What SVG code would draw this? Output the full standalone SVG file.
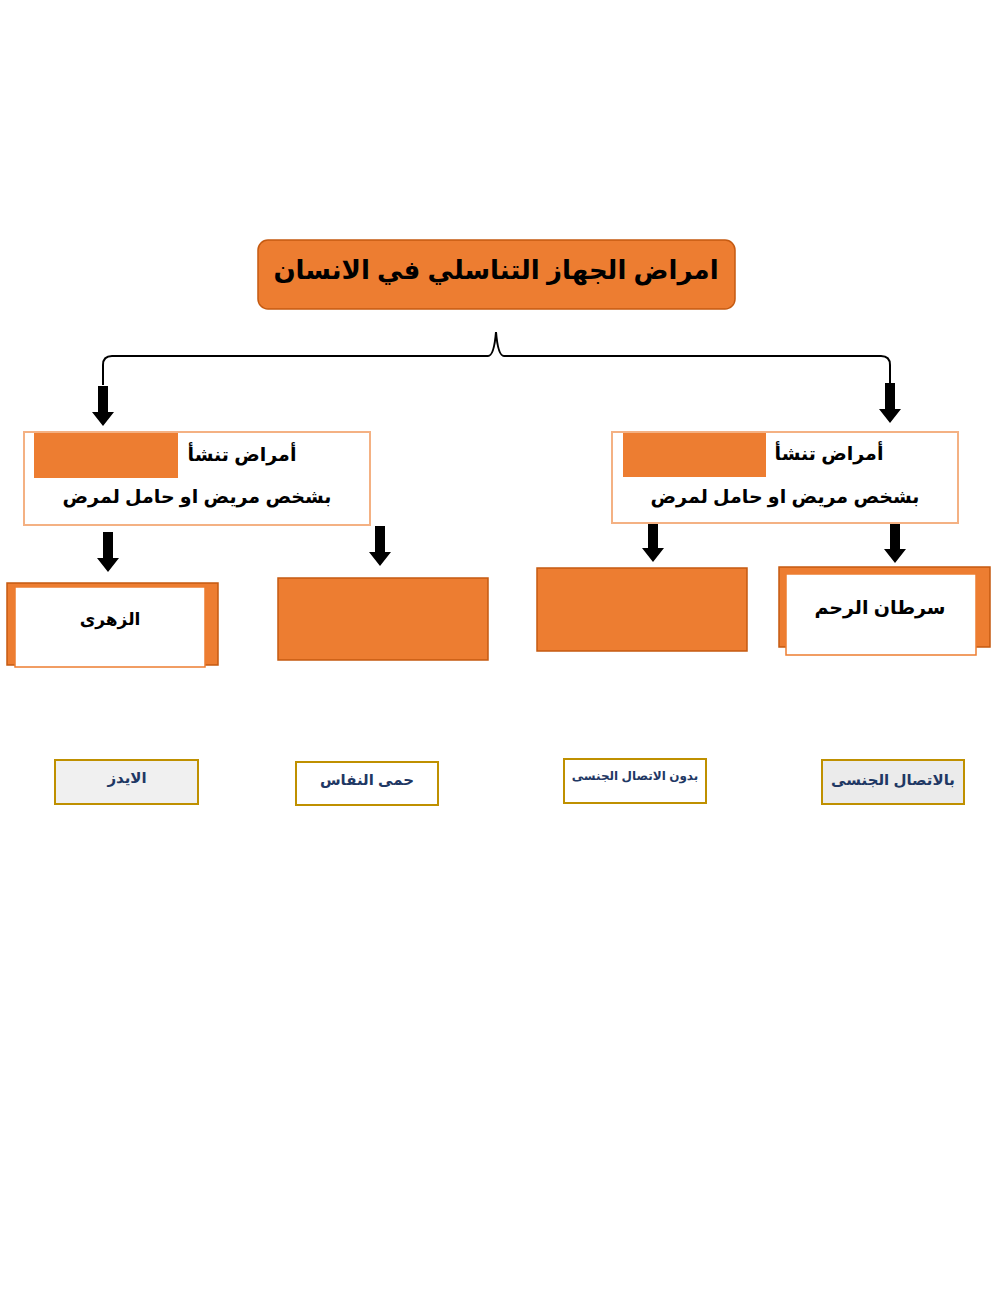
<svg xmlns="http://www.w3.org/2000/svg" width="1000" height="1291" viewBox="0 0 1000 1291">
<style>
text{font-family:"Liberation Sans","DejaVu Sans",sans-serif;font-weight:bold;text-anchor:middle}
.or{fill:#ed7d31;stroke:#c55a11;stroke-width:1.5}
.wb{fill:#fff;stroke:#f4b183;stroke-width:2}
.ow{fill:#fff;stroke:#ed7d31;stroke-width:1.5}
.ans{stroke:#bf9000;stroke-width:2}
.t{font-size:19px;fill:#000}
.a{font-size:15px;fill:#1f3864}
</style>
<defs>
<path id="arr" d="M-5,0 H5 V26 H11 L0,40 L-11,26 H-5 Z" fill="#000"/>
</defs>
<rect width="1000" height="1291" fill="#fff"/>
<g id="title"><rect x="258" y="240" width="477" height="69" rx="10" class="or"/><text x="496" y="279" style="font-size:26px">امراض الجهاز التناسلي في الانسان</text></g>
<g id="connectors">
<path d="M103,385 V365 Q103,356 112,356 H488 Q494,356 496,332 Q498,356 504,356 H881 Q890,356 890,365 V383" fill="none" stroke="#000" stroke-width="2"/>
<use href="#arr" x="103" y="386"/>
<use href="#arr" x="890" y="383"/>
<use href="#arr" x="108" y="532"/>
<use href="#arr" x="380" y="526"/>
<use href="#arr" x="653" y="522"/>
<use href="#arr" x="895" y="523"/>
</g>
<g id="leftbox"><rect x="24" y="432" width="346" height="93" class="wb"/><rect x="34" y="433" width="144" height="45" fill="#ed7d31"/><text x="242" y="461" class="t">أمراض تنشأ</text><text x="197" y="503" class="t">بشخص مريض او حامل لمرض</text></g>
<g id="rightbox"><rect x="612" y="432" width="346" height="91" class="wb"/><rect x="623" y="433" width="143" height="44" fill="#ed7d31"/><text x="829" y="460" class="t">أمراض تنشأ</text><text x="785" y="503" class="t">بشخص مريض او حامل لمرض</text></g>
<g id="zuhari"><rect x="7" y="583" width="211" height="82" class="or"/><rect x="15" y="587" width="190" height="80" class="ow"/><text x="110" y="625" style="font-size:17px">الزهرى</text></g>
<g id="blank1"><rect x="278" y="578" width="210" height="82" class="or"/></g>
<g id="blank2"><rect x="537" y="568" width="210" height="83" class="or"/></g>
<g id="saratan"><rect x="779" y="567" width="211" height="80" class="or"/><rect x="786" y="574" width="190" height="81" class="ow"/><text x="880" y="614" style="font-size:19px">سرطان الرحم</text></g>
<g id="aids"><rect x="55" y="760" width="143" height="44" fill="#f0f0f0" class="ans"/><text x="127" y="783" class="a">الايدز</text></g>
<g id="humma"><rect x="296" y="762" width="142" height="43" fill="#fff" class="ans"/><text x="367" y="785" class="a">حمى النفاس</text></g>
<g id="bidun"><rect x="564" y="759" width="142" height="44" fill="#fff" class="ans"/><text x="635" y="780" class="a" style="font-size:12px">بدون الاتصال الجنسى</text></g>
<g id="bil"><rect x="822" y="760" width="142" height="44" fill="#ebebeb" class="ans"/><text x="893" y="785" class="a">بالاتصال الجنسى</text></g>
</svg>
